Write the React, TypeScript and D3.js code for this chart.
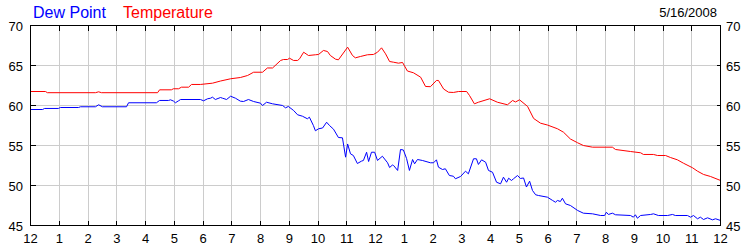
import React from "react";
import * as d3 from "d3";

// Hours since midnight (0..24) and degrees F
const tempHours = [0, 0.52, 0.59, 2.26, 2.37, 2.47, 4.42, 4.49, 4.9, 4.97, 5.15, 5.25, 5.5, 5.6, 5.91, 6.33, 6.61, 6.96, 7.3, 7.55, 7.76, 8.07, 8.24, 8.42, 8.7, 8.8, 8.94, 9.01, 9.15, 9.29, 9.36, 9.5, 9.67, 9.91, 10.02, 10.19, 10.33, 10.43, 10.61, 10.71, 11.03, 11.2, 11.3, 11.48, 11.72, 11.93, 12.07, 12.21, 12.35, 12.49, 12.63, 12.8, 12.94, 13.11, 13.32, 13.57, 13.74, 13.91, 14.12, 14.19, 14.37, 14.54, 14.71, 14.89, 15.17, 15.27, 15.44, 15.58, 15.97, 16.24, 16.59, 16.77, 16.87, 17.01, 17.29, 17.5, 17.74, 17.98, 18.33, 18.54, 18.78, 19.03, 19.23, 19.55, 20.24, 20.35, 20.87, 21.22, 21.32, 21.67, 21.81, 22.09, 22.26, 22.5, 22.71, 23.03, 23.2, 23.41, 23.65, 24];
const tempValues = [61.75, 61.75, 61.6, 61.6, 61.71, 61.6, 61.6, 61.96, 61.96, 62.09, 62.09, 62.29, 62.29, 62.63, 62.63, 62.79, 63.06, 63.34, 63.5, 63.75, 64.16, 64.16, 64.69, 64.69, 65.63, 65.75, 65.75, 65.91, 65.63, 65.63, 65.84, 66.66, 66.25, 66.34, 66.38, 66.88, 66.75, 66.25, 65.79, 65.71, 67.29, 66.25, 65.96, 66.13, 66.34, 66.38, 66.66, 67.21, 66.46, 65.5, 65.41, 65.29, 65.38, 64.31, 64.09, 63.54, 62.38, 62.35, 63.13, 63.13, 62.06, 61.66, 61.63, 61.75, 61.75, 61.25, 60.21, 60.41, 60.84, 60.41, 60.09, 60.63, 60.44, 60.71, 59.88, 58.38, 57.79, 57.56, 57.09, 56.66, 55.81, 55.34, 55.0, 54.79, 54.79, 54.5, 54.25, 54.09, 53.88, 53.88, 53.75, 53.75, 53.5, 53.21, 52.79, 52.21, 51.79, 51.38, 51.13, 50.63];

const dewHours = [0, 0.42, 0.49, 0.97, 1.04, 1.67, 1.74, 2.26, 2.37, 2.5, 3.34, 3.41, 4.38, 4.49, 4.8, 4.87, 4.97, 5.04, 5.15, 5.22, 5.91, 6.02, 6.16, 6.26, 6.33, 6.43, 6.61, 6.68, 6.82, 6.96, 7.13, 7.3, 7.41, 7.58, 7.76, 8.0, 8.07, 8.21, 8.42, 8.77, 8.87, 8.97, 9.15, 9.29, 9.46, 9.63, 9.7, 9.84, 9.91, 10.02, 10.16, 10.3, 10.4, 10.54, 10.71, 10.85, 10.96, 11.03, 11.13, 11.23, 11.37, 11.51, 11.58, 11.69, 11.76, 11.86, 11.97, 12.07, 12.24, 12.42, 12.49, 12.59, 12.63, 12.77, 12.87, 12.97, 13.08, 13.18, 13.29, 13.36, 13.46, 13.63, 13.91, 14.02, 14.12, 14.19, 14.33, 14.43, 14.57, 14.71, 14.78, 14.96, 15.13, 15.23, 15.41, 15.51, 15.58, 15.69, 15.83, 15.93, 16.07, 16.21, 16.35, 16.45, 16.56, 16.63, 16.73, 16.8, 16.94, 17.04, 17.15, 17.25, 17.36, 17.46, 17.57, 17.67, 17.98, 18.16, 18.26, 18.33, 18.43, 18.5, 18.61, 18.78, 19.03, 19.23, 19.55, 19.83, 19.97, 20.03, 20.1, 20.24, 20.35, 20.87, 20.97, 21.04, 21.11, 21.22, 21.57, 21.67, 21.84, 22.16, 22.33, 22.43, 22.85, 22.96, 23.06, 23.2, 23.3, 23.41, 23.55, 23.72, 23.83, 24];
const dewValues = [59.5, 59.5, 59.63, 59.63, 59.75, 59.75, 59.84, 59.84, 60.09, 59.84, 59.84, 60.34, 60.34, 60.63, 60.63, 60.71, 60.56, 60.34, 60.59, 60.75, 60.75, 60.59, 60.84, 60.91, 61.04, 60.75, 61.0, 60.91, 60.75, 61.16, 60.91, 60.54, 60.5, 60.75, 60.5, 60.29, 60.0, 60.41, 60.21, 60.0, 59.71, 59.88, 59.38, 58.84, 58.66, 58.34, 58.54, 57.5, 56.84, 57.09, 57.19, 57.91, 57.5, 57.04, 56.0, 55.96, 53.54, 55.19, 53.96, 53.75, 52.75, 53.04, 53.13, 54.16, 53.0, 54.16, 54.16, 53.13, 53.66, 52.84, 52.25, 52.56, 52.5, 51.88, 54.5, 54.44, 53.38, 51.88, 53.25, 52.71, 53.25, 53.13, 52.84, 52.84, 53.21, 52.29, 52.0, 52.09, 51.25, 51.16, 50.84, 51.13, 51.79, 51.46, 53.34, 53.34, 52.63, 53.21, 52.91, 51.88, 51.66, 50.41, 50.21, 51.04, 50.41, 50.91, 50.63, 50.84, 51.25, 50.88, 50.94, 49.81, 50.54, 49.38, 48.84, 48.75, 48.54, 48.13, 47.91, 48.13, 48.0, 48.41, 47.71, 47.5, 46.88, 46.54, 46.46, 46.25, 46.25, 46.66, 46.38, 46.54, 46.34, 46.25, 46.04, 46.34, 45.91, 46.25, 46.38, 46.46, 46.25, 46.25, 46.38, 46.25, 46.25, 46.04, 46.25, 45.84, 46.04, 45.75, 45.96, 45.71, 45.84, 45.63];

const hourTicks = d3.range(0, 25);
const hourLabels = ["12", "1", "2", "3", "4", "5", "6", "7", "8", "9", "10", "11", "12", "1", "2", "3", "4", "5", "6", "7", "8", "9", "10", "11", "12"];
const yTicks = [45, 50, 55, 60, 65, 70];
const seriesNames = ["Dew Point", "Temperature"];
const dateLabel = "5/16/2008";

const W = 750;
const H = 250;
const FONT = "'Liberation Sans', Arial, sans-serif";

export default function App() {
  const x = d3.scaleLinear().domain([0, 24]).range([30.5, 720.5]);
  const y = d3.scaleLinear().domain([45, 70]).range([225.5, 25.5]);

  const line = d3
    .line<[number, number]>()
    .x((d) => x(d[0]))
    .y((d) => y(d[1]));

  const tempData = tempHours.map((h, i) => [h, tempValues[i]] as [number, number]);
  const dewData = dewHours.map((h, i) => [h, dewValues[i]] as [number, number]);

  const [x0, x1] = x.range();
  const [yb, yt] = y.range();

  return (
    <svg
      width={W}
      height={H}
      style={{ position: "absolute", left: 0, top: 0, background: "#fff" }}
      fontFamily={FONT}
    >
      <rect x={0} y={0} width={W} height={H} fill="#fff" />
      {/* grid */}
      <g stroke="#cccccc" strokeWidth={1} shapeRendering="crispEdges">
        {hourTicks.slice(1, -1).map((h) => (
          <line key={"gx" + h} x1={x(h)} x2={x(h)} y1={yt} y2={yb} />
        ))}
        {yTicks.slice(1, -1).map((v) => (
          <line key={"gy" + v} x1={x0} x2={x1} y1={y(v)} y2={y(v)} />
        ))}
      </g>
      {/* series */}
      <path d={line(dewData) || ""} fill="none" stroke="#0000ff" strokeWidth={1} />
      <path d={line(tempData) || ""} fill="none" stroke="#ff0000" strokeWidth={1} />
      {/* frame + ticks */}
      <g stroke="#000" strokeWidth={1} shapeRendering="crispEdges">
        <rect x={x0} y={yt} width={x1 - x0} height={yb - yt} fill="none" />
        {hourTicks.slice(1, -1).map((h) => (
          <g key={"t" + h}>
            <line x1={x(h)} x2={x(h)} y1={yb} y2={yb - 5} />
            <line x1={x(h)} x2={x(h)} y1={yt} y2={yt + 5} />
          </g>
        ))}
        {yTicks.slice(1, -1).map((v) => (
          <g key={"ty" + v}>
            <line x1={x0} x2={x0 + 5} y1={y(v)} y2={y(v)} />
            <line x1={x1} x2={x1 - 4} y1={y(v)} y2={y(v)} />
          </g>
        ))}
      </g>
      {/* y labels */}
      <g fontSize={13} fill="#000">
        {yTicks.map((v) => (
          <text key={"yl" + v} x={23} y={y(v) + 5} textAnchor="end">
            {v}
          </text>
        ))}
        {yTicks.map((v) => (
          <text key={"yr" + v} x={726} y={y(v) + 5} textAnchor="start">
            {v}
          </text>
        ))}
        {hourTicks.map((h, i) => (
          <text key={"xl" + h} x={x(h)} y={243} textAnchor="middle">
            {hourLabels[i]}
          </text>
        ))}
        <text x={717} y={17} textAnchor="end">
          {dateLabel}
        </text>
      </g>
      {/* legend */}
      <text x={33} y={18} fontSize={16} fill="#0000ff">
        {seriesNames[0]}
      </text>
      <text x={123} y={18} fontSize={16} fill="#ff0000">
        {seriesNames[1]}
      </text>
    </svg>
  );
}
